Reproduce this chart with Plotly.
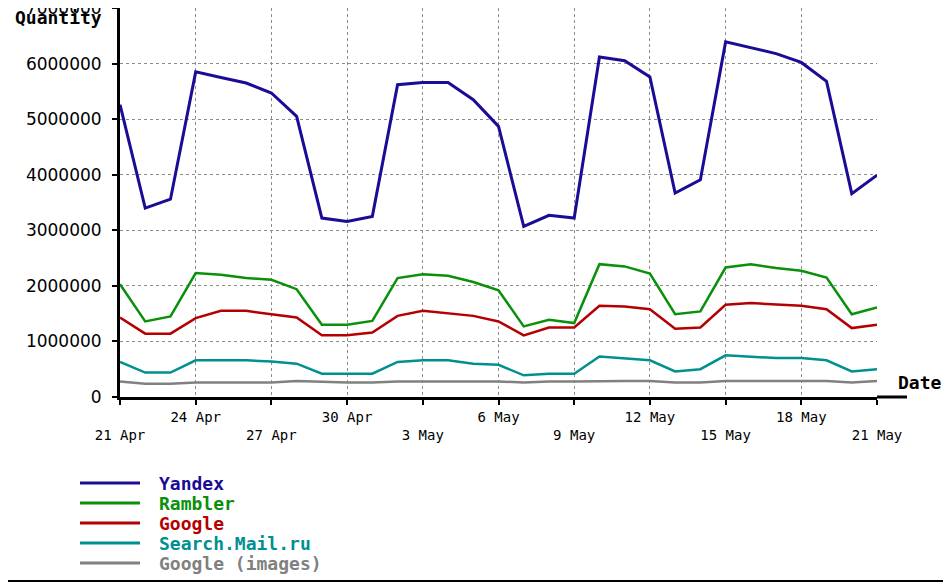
import pandas as pd
import plotly.graph_objects as go

# daily values, 21 Apr .. 21 May
dates = pd.date_range("2009-04-21", "2009-05-21", freq="D")

yandex = [5.26, 3.40, 3.56, 5.85, 5.75, 5.65, 5.47, 5.05, 3.22, 3.16, 3.25,
          5.62, 5.66, 5.66, 5.35, 4.87, 3.07, 3.27, 3.22, 6.12, 6.05, 5.76,
          3.67, 3.91, 6.39, 6.28, 6.18, 6.02, 5.68, 3.66, 3.99]
rambler = [2.03, 1.36, 1.45, 2.23, 2.20, 2.14, 2.11, 1.94, 1.30, 1.30, 1.37,
           2.14, 2.21, 2.18, 2.07, 1.92, 1.27, 1.39, 1.33, 2.39, 2.35, 2.22,
           1.49, 1.54, 2.33, 2.39, 2.32, 2.27, 2.15, 1.49, 1.61]
google = [1.43, 1.14, 1.14, 1.42, 1.55, 1.55, 1.49, 1.43, 1.11, 1.11, 1.16,
          1.46, 1.55, 1.51, 1.46, 1.36, 1.11, 1.25, 1.25, 1.64, 1.63, 1.58,
          1.23, 1.25, 1.66, 1.69, 1.66, 1.64, 1.58, 1.24, 1.30]
mail = [0.63, 0.44, 0.44, 0.66, 0.66, 0.66, 0.64, 0.60, 0.42, 0.42, 0.42,
        0.63, 0.66, 0.66, 0.60, 0.58, 0.39, 0.42, 0.42, 0.73, 0.70, 0.66,
        0.46, 0.50, 0.75, 0.72, 0.70, 0.70, 0.66, 0.46, 0.50]
google_img = [0.28, 0.24, 0.24, 0.26, 0.26, 0.26, 0.26, 0.29, 0.27, 0.26, 0.26,
              0.28, 0.28, 0.28, 0.28, 0.28, 0.26, 0.28, 0.28, 0.29, 0.29, 0.29,
              0.26, 0.26, 0.29, 0.29, 0.29, 0.29, 0.29, 0.26, 0.29]

series_names = ["Yandex", "Rambler", "Google", "Search.Mail.ru", "Google (images)"]
series_values = [yandex, rambler, google, mail, google_img]
colors = ["#1a0c96", "#0a900a", "#b40000", "#009090", "#808080"]
widths = [3, 2.5, 2.5, 2.5, 2.5]

tick_dates = dates[::3]
tick_text = []
for i, d in enumerate(tick_dates):
    label = f"{d.day}\u00a0{d.strftime('%b')}"
    tick_text.append("<br>" + label if i % 2 == 0 else label)

# the page body has an 8px margin, so the figure is laid out 8px in
OFF = 8
W, H = 951 - OFF, 583 - OFF
# plot box in page pixels
X0, X1, Y0, Y1 = 120, 877, 8, 397
L, R, T, B = X0 - OFF, W - (X1 - OFF), Y0 - OFF, H - (Y1 - OFF)


def px_x(px):
    return (px - X0) / (X1 - X0)


def px_y(py):
    return (Y1 - py) / (Y1 - Y0)


fig = go.Figure()
for name, vals, color, w in zip(series_names, series_values, colors, widths):
    fig.add_trace(go.Scatter(
        x=dates, y=[v * 1e6 for v in vals], mode="lines", name=name,
        line=dict(color=color, width=w), showlegend=False,
    ))

mono = "DejaVu Sans Mono"

# hand-made legend below the plot
for i, (name, color) in enumerate(zip(series_names, colors)):
    yy = px_y(483 + 20 * i)
    fig.add_shape(type="line", xref="paper", yref="paper",
                  x0=px_x(80), x1=px_x(140), y0=yy, y1=yy,
                  line=dict(color=color, width=3))
    fig.add_annotation(xref="paper", yref="paper", x=px_x(157), y=yy,
                       xanchor="left", yanchor="middle", showarrow=False,
                       text=f"<b>{name}</b>",
                       font=dict(family=mono, size=18, color=color))

fig.add_annotation(xref="paper", yref="paper", x=px_x(104), y=px_y(17),
                   xanchor="right", yanchor="middle", showarrow=False,
                   text="<b>Quantity</b>", font=dict(family=mono, size=18, color="black"))
fig.add_annotation(xref="paper", yref="paper", x=px_x(944), y=px_y(382),
                   xanchor="right", yanchor="middle", showarrow=False,
                   text="<b>Date</b>", font=dict(family=mono, size=18, color="black"))

# axis extension to the right and bottom border
fig.add_shape(type="line", xref="paper", yref="paper", x0=1, x1=px_x(907),
              y0=0, y1=0, line=dict(color="black", width=3))
fig.add_shape(type="line", xref="paper", yref="paper", x0=px_x(0), x1=px_x(951),
              y0=px_y(581), y1=px_y(581), line=dict(color="black", width=2))

fig.update_layout(
    width=W, height=H, autosize=False,
    margin=dict(l=L, r=R, t=T, b=B, pad=0),
    plot_bgcolor="white", paper_bgcolor="white",
)
fig.update_xaxes(
    range=[dates[0], dates[-1]], tickvals=list(tick_dates), ticktext=tick_text,
    showgrid=True, gridcolor="#8c8c8c", griddash="dot", gridwidth=1,
    showline=True, linecolor="black", linewidth=3,
    ticks="outside", ticklen=5, tickcolor="black", tickwidth=2,
    ticklabelstandoff=0, automargin=False,
    tickfont=dict(family=mono, size=14, color="black"), zeroline=False,
)
fig.update_yaxes(
    range=[0, 7e6], tickvals=[k * 1e6 for k in range(8)], tickformat="d",
    showgrid=True, gridcolor="#8c8c8c", griddash="dot", gridwidth=1,
    showline=True, linecolor="black", linewidth=3,
    ticks="outside", ticklen=5, tickcolor="black", tickwidth=2,
    ticklabelstandoff=7, automargin=False, ticklabeloverflow="allow",
    tickfont=dict(family="DejaVu Sans", size=17, color="black"), zeroline=False,
)

fig.write_html("out.html")
